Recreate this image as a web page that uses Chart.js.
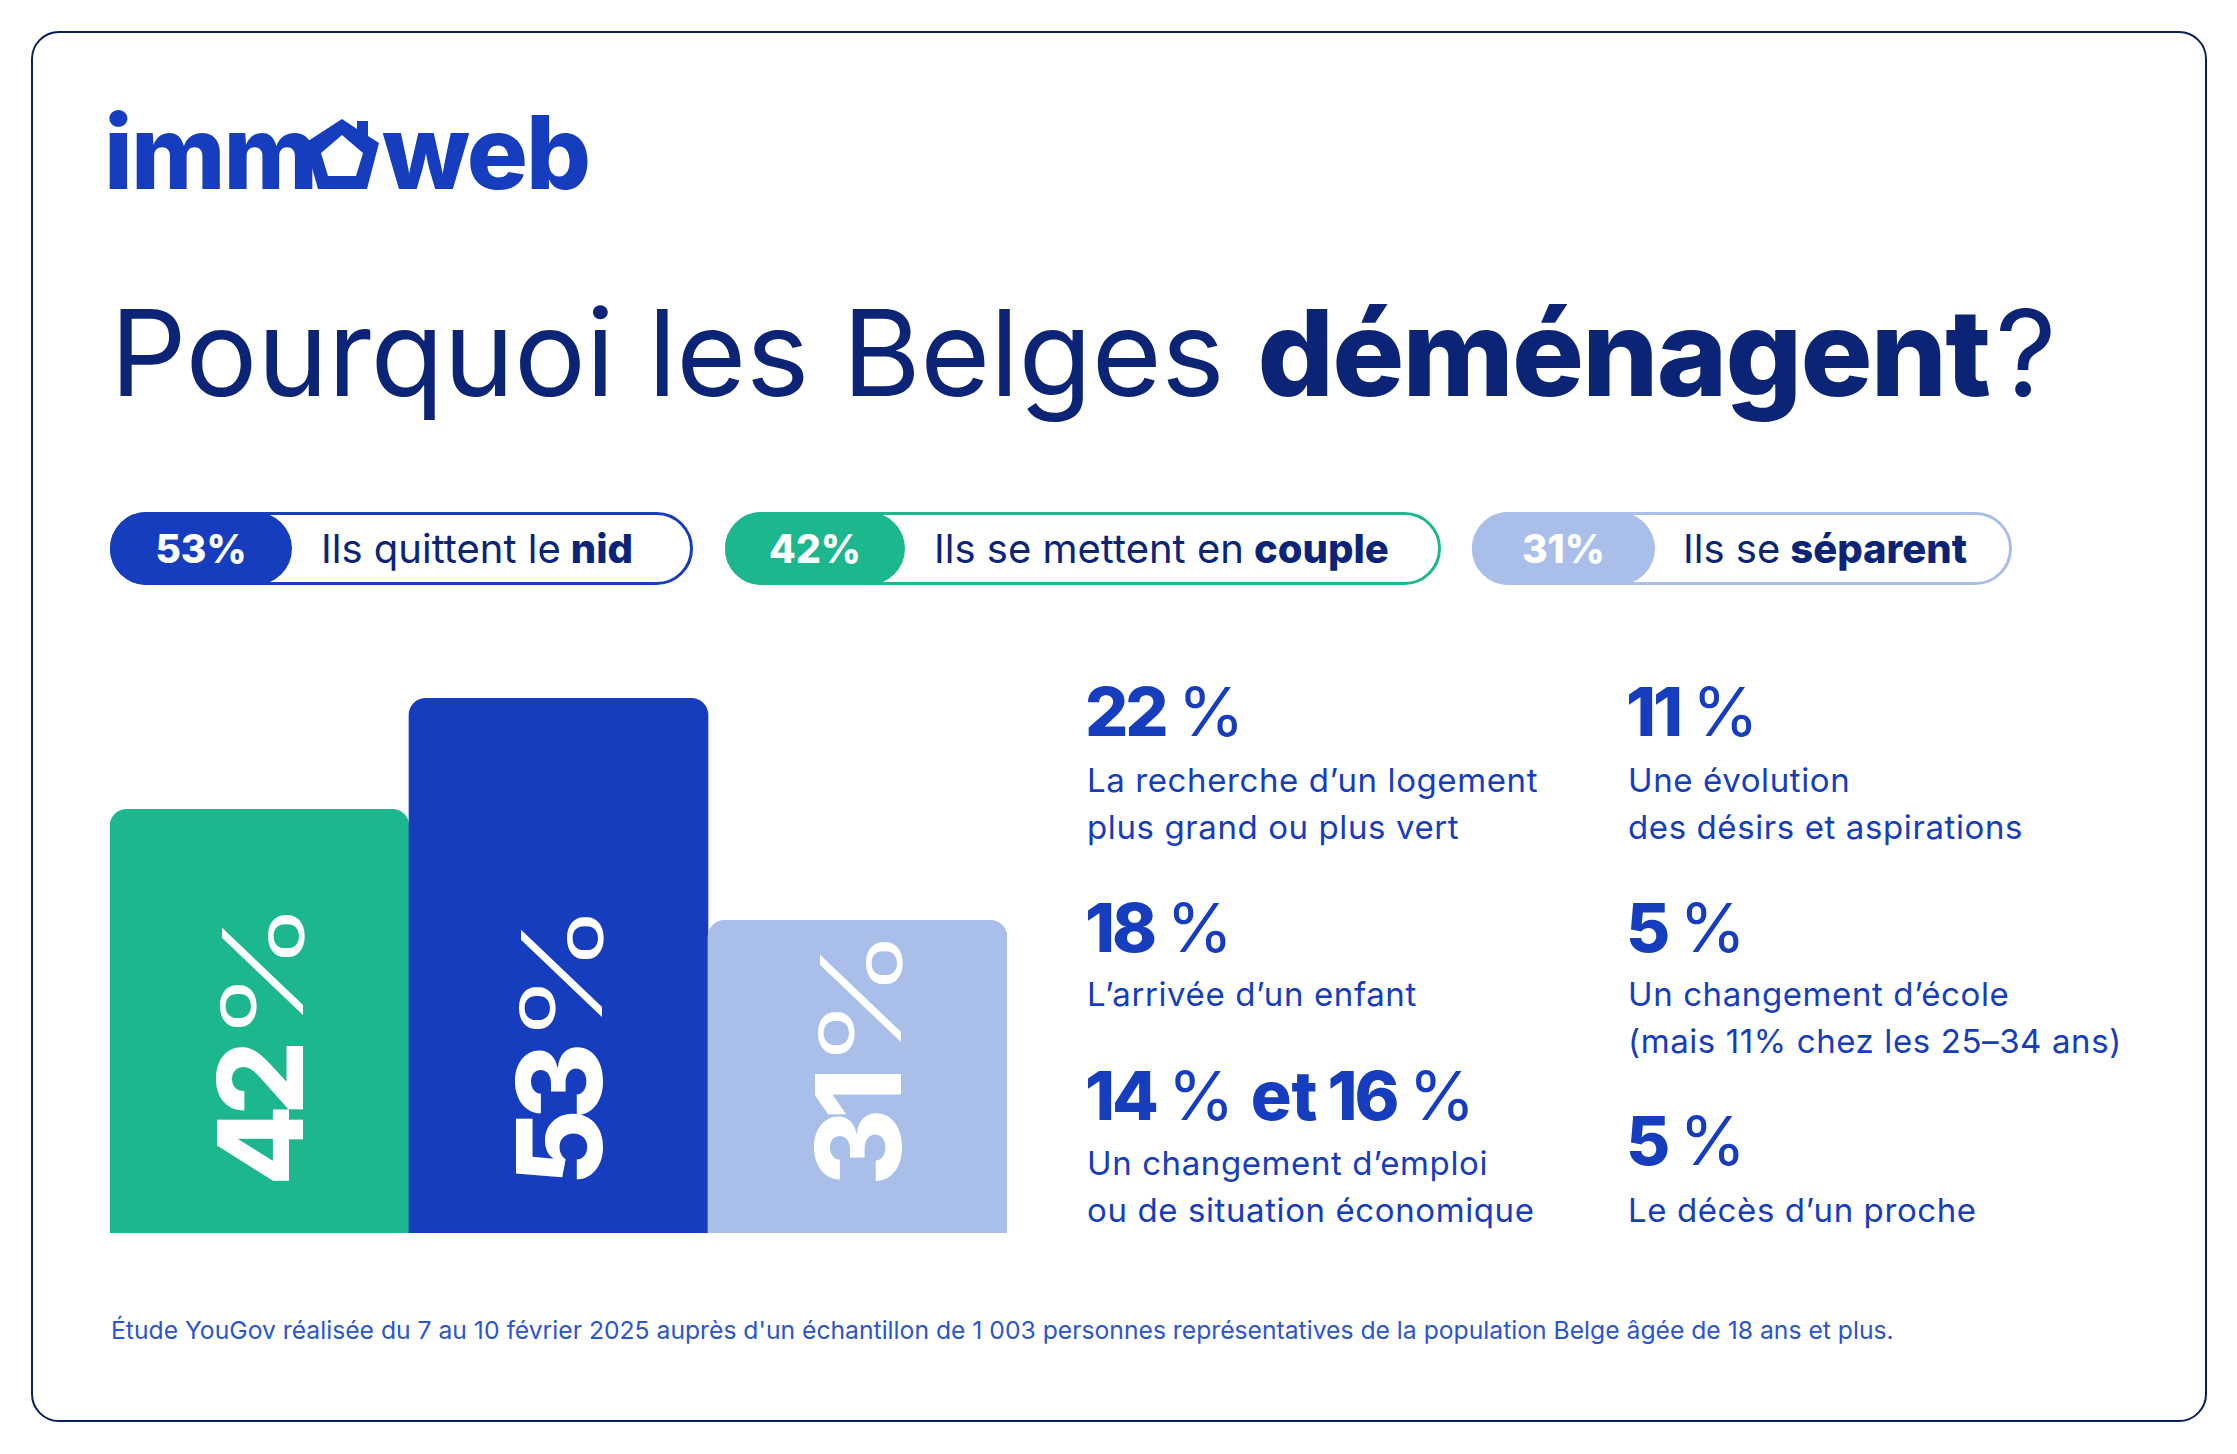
<!DOCTYPE html>
<html lang="fr">
<head>
<meta charset="utf-8">
<title>Pourquoi les Belges déménagent ?</title>
<script src="https://cdn.jsdelivr.net/npm/chart.js@4.4.1/dist/chart.umd.min.js"></script>
<style>
    body {
        margin: 0;
        width: 2237px;
        height: 1454px;
        background: #ffffff;
        position: relative;
        font-family: 'Inter', 'Lato', sans-serif;
        overflow: hidden;
    }
    .abs { position: absolute; white-space: nowrap; }
    .card {
        position: absolute;
        left: 31px; top: 31px;
        width: 2176px; height: 1391px;
        box-sizing: border-box;
        border: 2px solid #0b1f5c;
        border-radius: 28px;
    }
    .logo { font-size: 102px; line-height: 102px; font-weight: 800; color: #163dbd; letter-spacing: -2px; }
    .title { left: 110px; top: 293px; font-size: 120px; line-height: 120px; color: #0b2476; letter-spacing: -0.4px; }
    .title b { font-weight: 800; letter-spacing: -1.8px; }
    .title .q { margin-left: 6px; }
    .pill {
        position: absolute; top: 512px; height: 73px;
        box-sizing: border-box; border: 3px solid; border-radius: 37px;
    }
    .pill .fill {
        position: absolute; left: -3px; top: -3px; height: 73px;
        border-radius: 37px;
        display: flex; align-items: center; justify-content: center;
        color: #ffffff; font-weight: 800; font-size: 39px;
    }
    .pill .lbl {
        position: absolute; top: -3px; height: 73px;
        display: flex; align-items: center;
        color: #0b2476; font-size: 40px; white-space: nowrap;
    }
    .pill .lbl b { font-weight: 800; margin-left: 0.25em; }
    .big { font-size: 68px; line-height: 68px; color: #163dbd; font-weight: 800; letter-spacing: -3px; }
    .big .pc { font-weight: 400; margin-left: 12px; letter-spacing: 0; }
    .big .et { margin: 0 10px 0 16px; letter-spacing: 0; }
    .desc { font-size: 33px; line-height: 47px; color: #163dbd; letter-spacing: 0.6px; }
    .note { left: 111px; top: 1318px; font-size: 24.7px; line-height: 24px; color: #2c55d0; }
    #chartBox { position: absolute; left: 110px; top: 663px; width: 897px; height: 570px; }
</style>
</head>
<body>
<div class="card"></div>

<!-- logo -->
<div class="abs logo" style="left:104px; top:101px;">imm</div>
<svg class="abs" style="left:300px; top:115px;" width="85" height="80" viewBox="300 115 85 80">
    <path fill="#163dbd" fill-rule="evenodd"
          d="M342,119 L357,129 L357,121 L368,121 L368,136 L379,143 L367,189 L318,189 L305,143 Z
             M342,135 L363,153 L356,176 L328,176 L321,153 Z"/>
</svg>
<div class="abs logo" style="left:382px; top:101px;">web</div>

<div class="abs title">Pourquoi les Belges <b>déménagent</b><span class="q">?</span></div>

<!-- pills -->
<div class="pill" style="left:110px; width:583px; border-color:#163dbd;">
    <div class="fill" style="width:182px; background:#163dbd;">53%</div>
    <div class="lbl" style="left:208px;">Ils quittent le<b>nid</b></div>
</div>
<div class="pill" style="left:725px; width:716px; border-color:#1cb78e;">
    <div class="fill" style="width:180px; background:#1cb78e;">42%</div>
    <div class="lbl" style="left:206px;">Ils se mettent en<b>couple</b></div>
</div>
<div class="pill" style="left:1472px; width:540px; border-color:#a9bfea;">
    <div class="fill" style="width:183px; background:#a9bfea;">31%</div>
    <div class="lbl" style="left:208px;">Ils se<b>séparent</b></div>
</div>

<div id="chartBox"><canvas id="barChart"></canvas></div>

<!-- reasons, column 1 -->
<div class="abs big" style="left:1085px; top:677px;">22<span class="pc">%</span></div>
<div class="abs desc" style="left:1087px; top:757px;">La recherche d’un logement<br>plus grand ou plus vert</div>
<div class="abs big" style="left:1085px; top:893px;">18<span class="pc">%</span></div>
<div class="abs desc" style="left:1087px; top:971px;">L’arrivée d’un enfant</div>
<div class="abs big" style="left:1085px; top:1061px;">14<span class="pc">%</span><span class="et">et</span>16<span class="pc">%</span></div>
<div class="abs desc" style="left:1087px; top:1140px;">Un changement d’emploi<br>ou de situation économique</div>

<!-- reasons, column 2 -->
<div class="abs big" style="left:1626px; top:677px;">11<span class="pc">%</span></div>
<div class="abs desc" style="left:1628px; top:757px;">Une évolution<br>des désirs et aspirations</div>
<div class="abs big" style="left:1626px; top:893px;">5<span class="pc">%</span></div>
<div class="abs desc" style="left:1628px; top:971px;">Un changement d’école<br>(mais 11% chez les 25–34 ans)</div>
<div class="abs big" style="left:1626px; top:1106px;">5<span class="pc">%</span></div>
<div class="abs desc" style="left:1628px; top:1187px;">Le décès d’un proche</div>

<div class="abs note">Étude YouGov réalisée du 7 au 10 février 2025 auprès d'un échantillon de 1 003 personnes représentatives de la population Belge âgée de 18 ans et plus.</div>

<script>
// Bar data
const barLabels = ['Ils se mettent en couple', 'Ils quittent le nid', 'Ils se séparent'];
const barValues = [42, 53, 31];
const barColors = ['#1cb78e', '#163dbd', '#a9bfea'];

// rotated "42 %" labels inside each bar
const barTextPlugin = {
    id: 'barText',
    afterDatasetsDraw(chart) {
        const ctx = chart.ctx;
        const meta = chart.getDatasetMeta(0);
        meta.data.forEach((bar, i) => {
            ctx.save();
            ctx.translate(bar.x, bar.base - 47);
            ctx.rotate(-Math.PI / 2);
            ctx.fillStyle = '#ffffff';
            ctx.textBaseline = 'alphabetic';
            ctx.textAlign = 'left';
            ctx.font = '800 118px Inter';
            ctx.letterSpacing = '-11px';
            const num = String(barValues[i]);
            ctx.fillText(num, 0, 43);
            const w = ctx.measureText(num).width;
            ctx.letterSpacing = '0px';
            ctx.font = '300 112px Inter';
            ctx.translate(w + 8, 43);
            ctx.scale(1.38, 1);
            ctx.fillText('%', 0, 0);
            ctx.restore();
        });
    }
};

document.addEventListener('DOMContentLoaded', () => {
    new Chart(document.getElementById('barChart'), {
        type: 'bar',
        data: {
            labels: barLabels,
            datasets: [{
                data: barValues,
                backgroundColor: barColors,
                borderRadius: { topLeft: 17, topRight: 17, bottomLeft: 0, bottomRight: 0 },
                borderSkipped: 'bottom',
                categoryPercentage: 1,
                barPercentage: 1
            }]
        },
        options: {
            responsive: true,
            maintainAspectRatio: false,
            animation: false,
            layout: { padding: 0 },
            plugins: {
                legend: { display: false },
                tooltip: { enabled: false }
            },
            scales: {
                x: { display: false },
                y: { display: false, min: 0, max: 56.5 }
            }
        },
        plugins: [barTextPlugin]
    });
});
</script>
</body>
</html>
